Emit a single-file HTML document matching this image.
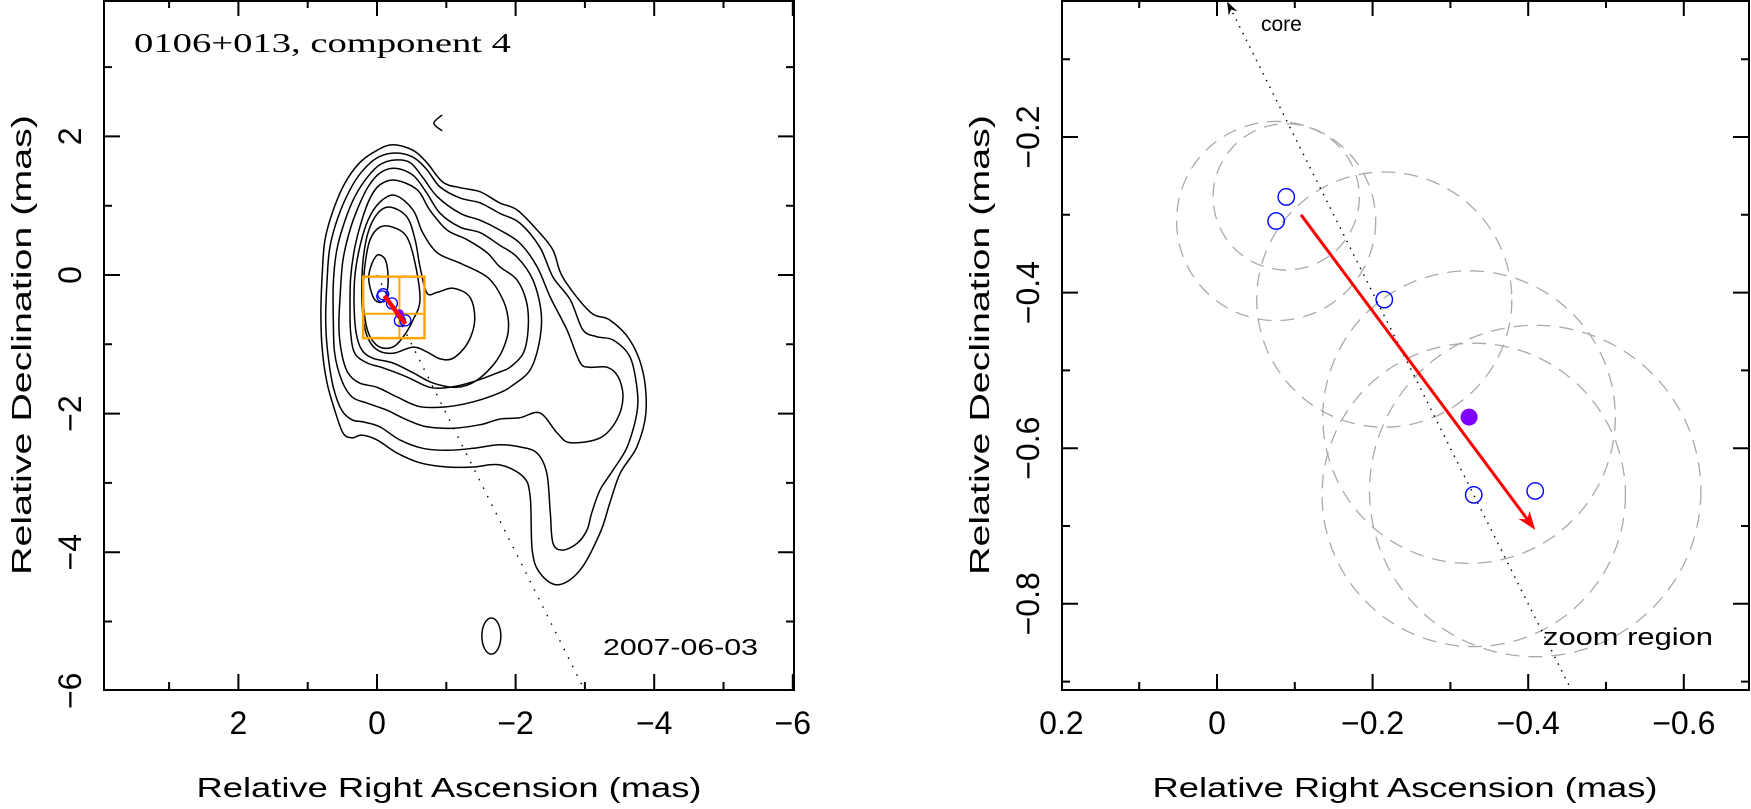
<!DOCTYPE html>
<html><head><meta charset="utf-8"><style>
html,body{margin:0;padding:0;background:#fff;}
svg{display:block;}
text{font-family:"Liberation Sans",sans-serif;fill:#000;}
</style></head><body>
<svg id="fig" xmlns="http://www.w3.org/2000/svg" width="1751" height="809" viewBox="0 0 1751 809">
<rect x="0" y="0" width="1751" height="809" fill="#fff"/>
<g id="left"></g>
<g id="right"></g>
</svg>
<script>
// ---------- data ----------
const leftXTicks = [2, 0, -2, -4, -6];
const leftXTickLabels = ["2", "0", "\u22122", "\u22124", "\u22126"];
const leftYTicks = [2, 0, -2, -4, -6];
const leftYTickLabels = ["2", "0", "\u22122", "\u22124", "\u22126"];
const rightXTicks = [0.2, 0, -0.2, -0.4, -0.6];
const rightXTickLabels = ["0.2", "0", "\u22120.2", "\u22120.4", "\u22120.6"];
const rightYTicks = [-0.2, -0.4, -0.6, -0.8];
const rightYTickLabels = ["\u22120.2", "\u22120.4", "\u22120.6", "\u22120.8"];

// component positions (RA, Dec in mas)
const compRA  = [-0.089, -0.076, -0.215, -0.330, -0.409];
const compDec = [-0.277, -0.308, -0.409, -0.660, -0.655];
const compErr = [0.094, 0.128, 0.164, 0.195, 0.213];
const meanRA = [-0.324];
const meanDec = [-0.560];
const meanErr = [0.188];
const vecStart = [-0.108, -0.300];
const vecEnd = [-0.409, -0.705];
const zoomBoxRA = [0.2, -0.685];
const zoomBoxDec = [-0.024, -0.911];
const jetSlope = [0.5]; // dRA/dDec of core direction

// contour levels (RA, Dec pairs in mas)
const contourA = [[-1.77,1.04],[-1.49,1.20],[-1.20,1.26],[-0.95,1.34],[-0.72,1.62],[-0.52,1.80],[-0.23,1.88],[0,1.80],[0.25,1.62],[0.46,1.33],[0.63,0.94],[0.75,0.51],[0.79,0.03],[0.81,-0.55],[0.79,-1.08],[0.72,-1.56],[0.61,-1.95],[0.49,-2.28],[0.36,-2.35],[0.22,-2.31],[0,-2.38],[-0.29,-2.57],[-0.62,-2.71],[-1.01,-2.77],[-1.39,-2.77],[-1.77,-2.74],[-2.11,-2.91],[-2.21,-3.20],[-2.24,-3.97],[-2.35,-4.30],[-2.61,-4.47],[-2.93,-4.26],[-3.22,-3.72],[-3.36,-3.29],[-3.51,-2.86],[-3.75,-2.48],[-3.88,-1.99],[-3.84,-1.41],[-3.65,-0.94],[-3.36,-0.65],[-3.07,-0.53],[-2.68,-0.03],[-2.54,0.36],[-2.31,0.65],[-2.02,0.94]];
const contourB = [[-1.77,0.89],[-1.49,1.04],[-1.20,1.11],[-0.91,1.27],[-0.72,1.52],[-0.52,1.70],[-0.26,1.76],[0,1.69],[0.22,1.49],[0.39,1.23],[0.56,0.84],[0.68,0.40],[0.72,-0.07],[0.74,-0.65],[0.71,-1.13],[0.63,-1.62],[0.51,-1.95],[0.36,-2.09],[0.20,-2.12],[-0.04,-2.19],[-0.33,-2.38],[-0.66,-2.50],[-1.01,-2.53],[-1.39,-2.50],[-1.77,-2.45],[-2.06,-2.48],[-2.31,-2.57],[-2.45,-2.86],[-2.50,-3.43],[-2.54,-3.87],[-2.68,-3.97],[-2.89,-3.87],[-3.03,-3.68],[-3.10,-3.43],[-3.22,-3.10],[-3.41,-2.81],[-3.61,-2.48],[-3.75,-1.99],[-3.75,-1.62],[-3.65,-1.18],[-3.41,-0.94],[-3.17,-0.89],[-2.97,-0.79],[-2.79,-0.36],[-2.54,-0.03],[-2.35,0.40],[-2.06,0.75]];
const contourC = [[-1.77,0.65],[-1.49,0.79],[-1.20,0.89],[-0.87,1.13],[-0.66,1.41],[-0.48,1.62],[-0.26,1.66],[-0.04,1.59],[0.14,1.41],[0.32,1.13],[0.46,0.79],[0.58,0.36],[0.63,-0.12],[0.63,-0.65],[0.61,-1.13],[0.51,-1.52],[0.36,-1.76],[0.14,-1.85],[-0.14,-1.95],[-0.43,-2.09],[-0.72,-2.19],[-1.10,-2.21],[-1.49,-2.16],[-1.77,-2.08],[-2.06,-2.06],[-2.35,-1.99],[-2.60,-2.28],[-2.79,-2.42],[-3.22,-2.35],[-3.46,-2.09],[-3.55,-1.76],[-3.48,-1.47],[-3.32,-1.33],[-3.07,-1.33],[-2.93,-1.26],[-2.74,-0.79],[-2.50,-0.32],[-2.31,0.12],[-2.06,0.46]];
const contourD = [[-1.77,0.43],[-1.49,0.61],[-1.20,0.69],[-0.91,0.89],[-0.72,1.18],[-0.52,1.44],[-0.26,1.54],[-0.04,1.47],[0.13,1.27],[0.27,0.98],[0.39,0.65],[0.49,0.22],[0.53,-0.26],[0.55,-0.75],[0.51,-1.13],[0.42,-1.41],[0.25,-1.56],[0,-1.62],[-0.29,-1.76],[-0.62,-1.90],[-1.01,-1.90],[-1.39,-1.83],[-1.77,-1.70],[-1.96,-1.59],[-2.21,-1.37],[-2.34,-0.98],[-2.37,-0.55],[-2.25,-0.07],[-2.02,0.26]];
const contourE = [[-1.77,0.12],[-1.59,0.32],[-1.30,0.51],[-1.01,0.65],[-0.76,0.94],[-0.58,1.23],[-0.26,1.37],[-0.04,1.30],[0.10,1.11],[0.22,0.79],[0.32,0.40],[0.38,-0.03],[0.39,-0.46],[0.38,-0.84],[0.32,-1.13],[0.14,-1.27],[-0.09,-1.34],[-0.43,-1.47],[-0.76,-1.62],[-1.05,-1.62],[-1.39,-1.54],[-1.77,-1.40],[-1.92,-1.33],[-2.11,-1.13],[-2.18,-0.79],[-2.16,-0.40],[-2.02,-0.07]];
const contourF = [[-0.26,1.15],[-0.04,1.05],[0.13,0.79],[0.25,0.40],[0.32,-0.03],[0.33,-0.46],[0.30,-0.84],[0.22,-1.08],[0.06,-1.20],[-0.23,-1.27],[-0.52,-1.41],[-0.81,-1.56],[-1.15,-1.62],[-1.44,-1.52],[-1.73,-1.23],[-1.88,-0.89],[-1.89,-0.61],[-1.80,-0.32],[-1.59,-0.03],[-1.20,0.17],[-0.87,0.32],[-0.66,0.61],[-0.52,0.94]];
const contourG = [[-0.19,0.98],[-0.01,0.89],[0.13,0.61],[0.20,0.22],[0.22,-0.22],[0.20,-0.61],[0.14,-0.89],[0,-1.08],[-0.23,-1.13],[-0.52,-1.04],[-0.72,-1.11],[-0.91,-1.21],[-1.10,-1.20],[-1.31,-0.98],[-1.41,-0.65],[-1.34,-0.32],[-1.10,-0.19],[-0.87,-0.25],[-0.72,-0.26],[-0.62,0.12],[-0.55,0.51],[-0.43,0.84]];
const contourH = [[-0.04,0.69],[0.10,0.51],[0.17,0.17],[0.20,-0.26],[0.17,-0.65],[0.10,-0.89],[-0.04,-1.04],[-0.23,-1.04],[-0.38,-0.89],[-0.52,-0.65],[-0.62,-0.36],[-0.55,0.17],[-0.43,0.55],[-0.23,0.69]];
const contourI = [[-0.01,0.29],[0.07,0.17],[0.12,-0.03],[0.09,-0.22],[0.03,-0.36],[-0.07,-0.39],[-0.14,-0.26],[-0.16,-0.03],[-0.12,0.22]];
const contourSpur = [[-0.94,2.31],[-0.82,2.19],[-0.94,2.08]];
const beam = [-1.65, -5.21, 0.137, 0.26];

// ---------- axis functions ----------
const L = {x0:104, x1:794, y0:0, y1:690};
const lx = v => 377 - 69.3*v;
const ly = v => 275 - 69.3*v;
const R = {x0:1062, x1:1749, y0:0, y1:690};
const rx = v => 1217 - 778*v;
const ry = v => -18.6 - 778*v;

const NS = "http://www.w3.org/2000/svg";
function mk(parent, tag, attrs, text){
  const e = document.createElementNS(NS, tag);
  for (const k in attrs) e.setAttribute(k, attrs[k]);
  if (text !== undefined) e.textContent = text;
  parent.appendChild(e);
  return e;
}
function smooth(pts, closed){
  const n = pts.length; let d = "M" + pts[0][0].toFixed(1) + "," + pts[0][1].toFixed(1);
  const m = closed ? n : n-1;
  for (let i=0;i<m;i++){
    const p0 = pts[closed ? (i-1+n)%n : Math.max(i-1,0)];
    const p1 = pts[i], p2 = pts[(i+1)%n];
    const p3 = pts[closed ? (i+2)%n : Math.min(i+2,n-1)];
    const c1 = [p1[0]+(p2[0]-p0[0])/6, p1[1]+(p2[1]-p0[1])/6];
    const c2 = [p2[0]-(p3[0]-p1[0])/6, p2[1]-(p3[1]-p1[1])/6];
    d += "C"+c1[0].toFixed(1)+","+c1[1].toFixed(1)+" "+c2[0].toFixed(1)+","+c2[1].toFixed(1)+" "+p2[0].toFixed(1)+","+p2[1].toFixed(1);
  }
  return d + (closed ? "Z" : "");
}

const left = document.getElementById('left');
const right = document.getElementById('right');

// ---------- LEFT PANEL ----------
const clipL = mk(document.getElementById('fig'), 'clipPath', {id:'clipL'});
mk(clipL, 'rect', {x:L.x0, y:L.y0, width:L.x1-L.x0, height:L.y1-L.y0});
const lg = mk(left, 'g', {'clip-path':'url(#clipL)'});



const contours = [contourA, contourB, contourC, contourD, contourE, contourF, contourG, contourH, contourI];
contours.forEach((c, i) => {
  const p = mk(lg, 'path', {d: smooth(c.map(q => [lx(q[0]), ly(q[1])]), true), fill:'none', stroke:'#000', 'stroke-width':1.5});
  
  
});
const spur = mk(lg, 'path', {d: smooth(contourSpur.map(q => [lx(q[0]), ly(q[1])]), false), fill:'none', stroke:'#000', 'stroke-width':1.5});


const beamEl = mk(lg, 'ellipse', {cx: lx(beam[0]), cy: ly(beam[1]), rx: beam[2]*69.3, ry: beam[3]*69.3, fill:'none', stroke:'#000', 'stroke-width':1.5});



// jet direction dotted line
const jl = mk(lg, 'line', {x1: lx(0), y1: ly(0), x2: lx(jetSlope[0]*-6.2), y2: ly(-6.2), stroke:'#000', 'stroke-width':1.4, 'stroke-dasharray':'1.5 8'});



// zoom box
const zb = mk(lg, 'rect', {x: lx(zoomBoxRA[0]), y: ly(zoomBoxDec[0]), width: lx(zoomBoxRA[1])-lx(zoomBoxRA[0]), height: ly(zoomBoxDec[1])-ly(zoomBoxDec[0]), fill:'none', stroke:'#ffa500', 'stroke-width':2.5});


const zv = mk(lg, 'line', {x1: lx(meanRA[0]), y1: ly(zoomBoxDec[0]), x2: lx(meanRA[0]), y2: ly(zoomBoxDec[1]), stroke:'#ffa500', 'stroke-width':2});


const zh = mk(lg, 'line', {x1: lx(zoomBoxRA[0]), y1: ly(meanDec[0]), x2: lx(zoomBoxRA[1]), y2: ly(meanDec[0]), stroke:'#ffa500', 'stroke-width':2});



compRA.forEach((v, i) => {
  const c = mk(lg, 'circle', {cx: lx(v), cy: ly(compDec[i]), r: 5.5, fill:'none', stroke:'#0000ff', 'stroke-width':1.3});
  
  
});
const pm = mk(lg, 'circle', {cx: lx(meanRA[0]), cy: ly(meanDec[0]), r: 4.5, fill:'#7f00ff'});


const va = mk(lg, 'line', {x1: lx(vecStart[0]), y1: ly(vecStart[1]), x2: lx(vecEnd[0]), y2: ly(vecEnd[1]), stroke:'#ff0000', 'stroke-width':4.5});



// frame & ticks
function frame(parent, B, name){
  const f = mk(parent, 'rect', {x:B.x0, y:B.y0+1, width:B.x1-B.x0, height:B.y1-B.y0-1, fill:'none', stroke:'#000', 'stroke-width':2});
  
  
}
function ticks(parent, B, xs, ys, fx, fy, majorX, majorY){
  let d = "";
  xs.forEach(v => { const x = fx(v); const len = majorX(v) ? 16 : 8;
    if (x < B.x0-0.5 || x > B.x1+0.5) return;
    d += `M${x},${B.y1}v${-len}M${x},${B.y0}v${len}`; });
  ys.forEach(v => { const y = fy(v); const len = majorY(v) ? 16 : 8;
    if (y < B.y0-0.5 || y > B.y1+0.5) return;
    d += `M${B.x0},${y}h${len}M${B.x1},${y}h${-len}`; });
  const t = mk(parent, 'path', {d, stroke:'#000', 'stroke-width':2, fill:'none'});
  
  
}
frame(left, L, 'left-plot-frame');
const lminor = []; for (let v=-6; v<=3; v++) lminor.push(v);
ticks(left, L, lminor, lminor, lx, ly, v => v%2===0, v => v%2===0);

leftXTicks.forEach((v, i) => {
  const t = mk(left, 'text', {x: lx(v), y: 734, 'font-size':32, 'text-anchor':'middle'}, leftXTickLabels[i]);
  
  
});
leftYTicks.forEach((v, i) => {
  const y = ly(v);
  const t = mk(left, 'text', {x: 81, y: y, 'font-size':32, 'text-anchor':'middle', transform:`rotate(-90 81 ${y})`}, leftYTickLabels[i]);
  
  
});
const lxt = mk(left, 'text', {x: 449, y: 797, 'font-size':28, 'text-anchor':'middle', textLength:505, lengthAdjust:'spacingAndGlyphs'}, 'Relative Right Ascension (mas)');


const lyt = mk(left, 'text', {x: 31, y: 345, 'font-size':28, 'text-anchor':'middle', transform:'rotate(-90 31 345)', textLength:460, lengthAdjust:'spacingAndGlyphs'}, 'Relative Declination (mas)');


const title = mk(left, 'text', {x: 134, y: 52, 'font-size':27, textLength:377, lengthAdjust:'spacingAndGlyphs', style:'font-family:"Liberation Serif",serif'}, '0106+013, component 4');


const date = mk(left, 'text', {x: 603, y: 655, 'font-size':23, textLength:155, lengthAdjust:'spacingAndGlyphs', fill:'#222'}, '2007-06-03');



// ---------- RIGHT PANEL ----------
const clipR = mk(document.getElementById('fig'), 'clipPath', {id:'clipR'});
mk(clipR, 'rect', {x:R.x0, y:R.y0, width:R.x1-R.x0, height:R.y1-R.y0});
const rg = mk(right, 'g', {'clip-path':'url(#clipR)'});



compRA.forEach((v, i) => {
  const c = mk(rg, 'circle', {cx: rx(v), cy: ry(compDec[i]), r: compErr[i]*778, fill:'none', stroke:'#aaa', 'stroke-width':1.3, 'stroke-dasharray':'14 9'});
  
  
});
const mc = mk(rg, 'circle', {cx: rx(meanRA[0]), cy: ry(meanDec[0]), r: meanErr[0]*778, fill:'none', stroke:'#aaa', 'stroke-width':1.3, 'stroke-dasharray':'14 9'});



// core direction dotted line
const cy0 = 0.02, cy1 = -1.0;
const cl = mk(rg, 'line', {x1: rx(jetSlope[0]*cy0), y1: ry(cy0), x2: rx(jetSlope[0]*cy1), y2: ry(cy1), stroke:'#000', 'stroke-width':1.4, 'stroke-dasharray':'1.5 6'});


// arrowhead toward core
(function(){
  const ty = -0.026, tx = jetSlope[0]*ty;
  const X = rx(tx), Y = ry(ty);
  const ang = Math.atan2(-(ry(-0.1)-Y), -(rx(jetSlope[0]*-0.1)-X));
  const a = mk(right, 'path', {d: `M${X},${Y} L${X-14*Math.cos(ang-0.35)},${Y-14*Math.sin(ang-0.35)} L${X-9*Math.cos(ang)},${Y-9*Math.sin(ang)} L${X-14*Math.cos(ang+0.35)},${Y-14*Math.sin(ang+0.35)}Z`, fill:'#000'});
  
  
})();
const coreT = mk(right, 'text', {x: 1261, y: 31, 'font-size':21, fill:'#222'}, 'core');



compRA.forEach((v, i) => {
  const c = mk(rg, 'circle', {cx: rx(v), cy: ry(compDec[i]), r: 8.2, fill:'none', stroke:'#0000ff', 'stroke-width':1.4});
  
  
});
const pr = mk(rg, 'circle', {cx: rx(meanRA[0]), cy: ry(meanDec[0]), r: 8.5, fill:'#7f00ff'});



// velocity arrow
(function(){
  const X1 = rx(vecStart[0]), Y1 = ry(vecStart[1]), X2 = rx(vecEnd[0]), Y2 = ry(vecEnd[1]);
  const ang = Math.atan2(Y2-Y1, X2-X1);
  const bx = X2 - 13*Math.cos(ang), by = Y2 - 13*Math.sin(ang);
  const ln = mk(rg, 'line', {x1: X1, y1: Y1, x2: bx, y2: by, stroke:'#ff0000', 'stroke-width':3});
  
  
  const h = mk(rg, 'path', {d: `M${X2},${Y2} L${X2-20*Math.cos(ang-0.35)},${Y2-20*Math.sin(ang-0.35)} L${X2-13*Math.cos(ang)},${Y2-13*Math.sin(ang)} L${X2-20*Math.cos(ang+0.35)},${Y2-20*Math.sin(ang+0.35)}Z`, fill:'#ff0000'});
  
  
})();

const zr = mk(right, 'text', {x: 1543, y: 645, 'font-size':24, textLength:170, lengthAdjust:'spacingAndGlyphs', fill:'#222'}, 'zoom region');



frame(right, R, 'right-plot-frame');
const rxs = []; for (let k=-7; k<=2; k++) rxs.push(k/10);
const rys = []; for (let k=-9; k<=0; k++) rys.push(k/10);
ticks(right, R, rxs, rys, rx, ry, v => Math.round(v*10)%2===0, v => Math.round(v*10)%2===0);

rightXTicks.forEach((v, i) => {
  const t = mk(right, 'text', {x: rx(v), y: 734, 'font-size':32, 'text-anchor':'middle'}, rightXTickLabels[i]);
  
  
});
rightYTicks.forEach((v, i) => {
  const y = ry(v);
  const t = mk(right, 'text', {x: 1039, y: y, 'font-size':32, 'text-anchor':'middle', transform:`rotate(-90 1039 ${y})`}, rightYTickLabels[i]);
  
  
});
const rxt = mk(right, 'text', {x: 1405, y: 797, 'font-size':28, 'text-anchor':'middle', textLength:505, lengthAdjust:'spacingAndGlyphs'}, 'Relative Right Ascension (mas)');


const ryt = mk(right, 'text', {x: 989, y: 345, 'font-size':28, 'text-anchor':'middle', transform:'rotate(-90 989 345)', textLength:460, lengthAdjust:'spacingAndGlyphs'}, 'Relative Declination (mas)');


</script>
</body></html>
